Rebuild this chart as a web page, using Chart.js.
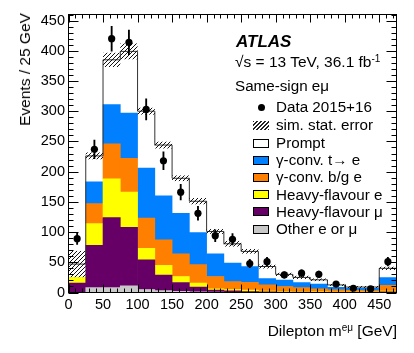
<!DOCTYPE html>
<html><head><meta charset="utf-8">
<script src="https://cdn.jsdelivr.net/npm/chart.js@4.4.1/dist/chart.umd.min.js"></script>
<style>
html,body{margin:0;padding:0;background:#fff;}
#wrap{position:relative;width:414px;height:353px;font-family:'Liberation Sans',Arial,Helvetica,sans-serif;color:#000;overflow:hidden;}
#c{position:absolute;left:0;top:0;}
.t{position:absolute;white-space:nowrap;line-height:18px;height:18px;font-size:15.2px;}
.t sup{font-size:10px;line-height:0;vertical-align:0.55em;}
.box{position:absolute;box-sizing:border-box;width:16px;height:9px;border:1px solid #000;}
.dot{position:absolute;width:7px;height:7px;border-radius:50%;background:#000;}
.hat{position:absolute;width:16px;height:9px;background:repeating-linear-gradient(135deg,#222 0 1px,transparent 1px 2.8px);}
</style></head>
<body><div id="wrap"><canvas id="c" width="414" height="353"></canvas><div id="ann"></div></div>
<script>
// ---------------- data ----------------
const binEdges = [0,25,50,75,100,125,150,175,200,225,250,275,300,325,350,375,400,425,450,475];
const dataCounts = [89,237,420,414,303,218,166,131,94,88,48,51,29,32,30,14,7,6,51];
const dataErrors = [9.4,15.4,20.5,20.3,17.4,14.8,12.9,11.4,9.7,9.4,6.9,7.1,5.4,5.7,5.5,3.7,2.6,2.4,7.1];
const otherEMu   = [0,8,8,11,5,3,2,1,0.5,0.3,0.2,0,0,0,0,0,0,0,0];
const hfMu       = [15.5,70,116,97,49,26,14.5,8,3.5,2.5,1.3,1,0.7,0.5,0.4,0.3,0.3,0.3,1];
const hfE        = [9.5,36,64,58,19,16,10,6.5,2,2.2,2.5,1.5,1.3,1,0.8,0.5,0.4,0.4,1.5];
const convBG     = [0,33,58,56,50,42,37.5,30.5,20.5,13,13,10,8,6.5,4.8,3.7,2.8,2.5,9.5];
const convTop    = [0,36,65,75,83,73,67,53,37.5,30.6,26,10.5,10.5,8.5,8,4,3.5,3.8,12.5];
const prompt     = [22,43,74,102,94,84,58,52,37,32,25,20,9.5,8.5,7,4,2,2,15.5];
const mcStatErr  = [22,6,12,13.5,6,6,5,5.5,4,5,4,3.5,3,3,2.5,2,2,2,3];
const xTickStep = 50, yTickStep = 50, minorStep = 10;
const xMax = 475, yMax = 460;
const seriesNames = ['Prompt','γ-conv. t→ e','γ-conv. b/g e','Heavy-flavour e','Heavy-flavour μ','Other e or μ'];
const seriesColors = ['#ffffff','#0080ff','#ff7f00','#ffff00','#660066','#c8c8c8'];
const dataLabel = 'Data 2015+16';
const errLabel = 'sim. stat. error';

// ---------------- derived tables ----------------
const centers = binEdges.slice(0,-1).map((e,i)=>(e+binEdges[i+1])/2);
const comps = [prompt, convTop, convBG, hfE, hfMu, otherEMu];
const totals = centers.map((_,i)=>comps.reduce((s,a)=>s+a[i],0));
const xy = arr => arr.map((v,i)=>({x:centers[i], y:v}));
const stairs = binEdges.map((e,i)=>({x:e, y: totals[Math.min(i, totals.length-1)]}));

const canvas = document.getElementById('c');

Chart.defaults.font.family = "'Liberation Sans', Arial, Helvetica, sans-serif";
Chart.defaults.color = '#000';

// stack datasets (bottom first)
const stackOrder = [5,4,3,2,1,0];
const stackSets = stackOrder.map((k,j)=>({
  type:'bar', label: seriesNames[k], data: xy(comps[k]),
  backgroundColor: seriesColors[k], borderWidth: 0,
  barPercentage: 1, categoryPercentage: 1, xAxisID:'x', yAxisID:'y', order: 10 + j
}));

// hatch fill for the simulation error band (drawn inside the library's bar elements)
const hatchPlugin = {
  id: 'hatch',
  afterDatasetDraw(chart, args) {
    if (chart.data.datasets[args.index].label !== errLabel) return;
    const ctx = chart.ctx, sp = 4;
    ctx.save();
    ctx.strokeStyle = '#111'; ctx.lineWidth = 1;
    args.meta.data.forEach(el => {
      const p = el.getProps(['x','y','base','width'], true);
      const l = p.x - p.width/2, r = p.x + p.width/2;
      const t = Math.min(p.y, p.base), b = Math.max(p.y, p.base), hgt = b - t;
      ctx.save();
      ctx.beginPath(); ctx.rect(l, t, r - l, hgt); ctx.clip();
      ctx.beginPath();
      const k0 = Math.floor((l + b - hgt - sp) / sp) * sp;
      for (let k = k0; k < r + b + sp; k += sp) {
        ctx.moveTo(k - b, b); ctx.lineTo(k - t, t);
      }
      ctx.stroke();
      ctx.restore();
    });
    ctx.restore();
  }
};

const frameTicks = {
  id: 'frameTicks',
  afterDatasetsDraw(chart) {
    const {ctx, chartArea: a} = chart;
    const xs = chart.scales.x, ys = chart.scales.y;
    ctx.save();
    ctx.strokeStyle = '#000'; ctx.lineWidth = 1;
    ctx.beginPath();
    for (let v = 0; v <= xMax; v += minorStep) {
      const px = Math.round(xs.getPixelForValue(v)) + 0.5;
      const L = (v % xTickStep === 0) ? 8 : 4;
      ctx.moveTo(px, a.bottom); ctx.lineTo(px, a.bottom - L);
      ctx.moveTo(px, a.top); ctx.lineTo(px, a.top + L);
    }
    for (let v = 0; v <= yMax; v += minorStep) {
      const py = Math.round(ys.getPixelForValue(v)) + 0.5;
      const L = (v % yTickStep === 0) ? 10 : 5;
      ctx.moveTo(a.left, py); ctx.lineTo(a.left + L, py);
      ctx.moveTo(a.right, py); ctx.lineTo(a.right - L, py);
    }
    ctx.stroke();
    ctx.strokeRect(a.left, a.top, a.right - a.left, a.bottom - a.top);
    ctx.restore();
  }
};

new Chart(canvas, {
  type: 'bar',
  data: { datasets: [
    { type:'line', label: dataLabel, data: xy(dataCounts), showLine:false,
      pointRadius:3.6, pointBackgroundColor:'#000', pointBorderWidth:0, xAxisID:'x', yAxisID:'yd', order:0 },
    { type:'bar', label:'data error', data: centers.map((c,i)=>({x:c, y:[dataCounts[i]-dataErrors[i], dataCounts[i]+dataErrors[i]]})),
      backgroundColor:'#000', borderWidth:0, barThickness:1.2, grouped:false, xAxisID:'x', yAxisID:'yd', order:1 },
    { type:'bar', label: errLabel, data: centers.map((c,i)=>({x:c, y:[totals[i]-mcStatErr[i], totals[i]+mcStatErr[i]]})),
      backgroundColor:'rgba(0,0,0,0)', borderWidth:0, barPercentage:1, categoryPercentage:1, grouped:false,
      xAxisID:'x', yAxisID:'yd', order:2 },
    { type:'line', label:'total', data: stairs, stepped:'before', borderColor:'#333', borderWidth:1,
      pointRadius:0, fill:false, xAxisID:'x', yAxisID:'yd', order:3 },
    ...stackSets
  ]},
  options: {
    responsive:false, animation:false, devicePixelRatio:1,
    layout: { padding: { top:14.5, right:17.5, bottom:0, left:0 } },
    plugins: { legend:{display:false}, tooltip:{enabled:false} },
    scales: {
      x: { type:'linear', min:0, max:xMax, offset:false, stacked:true,
           grid:{display:false, drawTicks:false, offset:false}, border:{display:false},
           ticks:{ stepSize:xTickStep, includeBounds:false, maxRotation:0, autoSkip:false, padding:3.5,
                   font:{size:14.5}, color:'#000' },
           afterFit(s){ s.height = 60.5; } },
      y: { type:'linear', min:0, max:yMax, stacked:true,
           grid:{display:false, drawTicks:false}, border:{display:false},
           ticks:{ stepSize:yTickStep, includeBounds:false, padding:3.5, font:{size:14.5}, color:'#000' },
           afterFit(s){ s.width = 68.5; } },
      yd: { type:'linear', min:0, max:yMax, stacked:false, display:false }
    }
  },
  plugins:[hatchPlugin, frameTicks]
});

// ---------------- annotations & legend (HTML text) ----------------
const ann = document.getElementById('ann');
function addText(html, left, cy, extra) {
  const d = document.createElement('div'); d.className='t'; d.innerHTML = html;
  d.style.left = left+'px'; d.style.top = (cy-9)+'px';
  if (extra) Object.assign(d.style, extra);
  ann.appendChild(d); return d;
}
addText('ATLAS', 236, 41.5, {fontWeight:'bold', fontStyle:'italic', fontSize:'17px'});
addText('√s = 13 TeV, 36.1 fb<sup>-1</sup>', 235, 61.5, {fontSize:'15.5px'});
addText('Same-sign eμ', 235, 85.5);
const textX = 276, markX = 253;
const rowY = [107,125,143,160.2,177.4,194.6,211.8,229];
const dot = document.createElement('div'); dot.className='dot';
dot.style.left=(markX+8-3.5)+'px'; dot.style.top=(rowY[0]-3.5)+'px'; ann.appendChild(dot);
addText(dataLabel, textX, rowY[0]);
const h = document.createElement('div'); h.className='hat';
h.style.left=markX+'px'; h.style.top=(rowY[1]-4.5)+'px'; ann.appendChild(h);
addText(errLabel, textX, rowY[1]);
seriesNames.forEach((n,k)=>{
  const b = document.createElement('div'); b.className='box';
  b.style.left=markX+'px'; b.style.top=(rowY[k+2]-4.5)+'px'; b.style.background=seriesColors[k];
  ann.appendChild(b);
  addText(n, textX, rowY[k+2]);
});
// axis titles
addText('Dilepton m<sup>eμ</sup> [GeV]', 0, 330.5, {left:'auto', right:'17px', fontSize:'15.5px'});
const yt = document.createElement('div'); yt.className='t'; yt.textContent='Events / 25 GeV';
Object.assign(yt.style,{left:'0px', top:'0px', fontSize:'15.5px', transformOrigin:'0 0',
  transform:'translate(25px,13px) rotate(-90deg) translate(-100%,-50%)'});
ann.appendChild(yt);
</script></body></html>
